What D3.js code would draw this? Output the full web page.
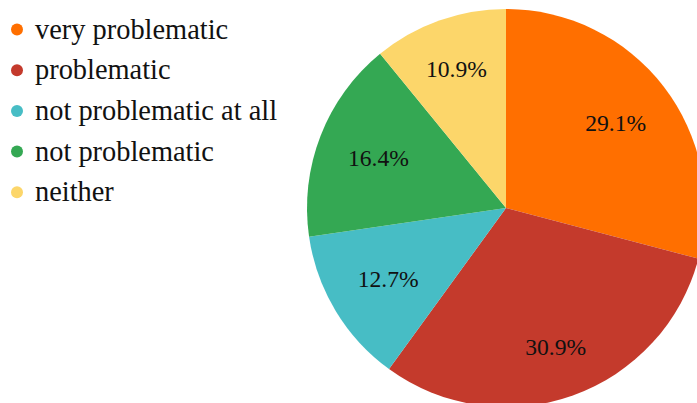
<!DOCTYPE html>
<html>
<head>
<meta charset="utf-8">
<script src="https://cdn.jsdelivr.net/npm/d3@7"></script>
<style>
  body { margin: 0; background: #fff; }
  svg { display: block; }
  text { font-family: "Liberation Serif", "Times New Roman", "DejaVu Serif", serif; }
</style>
</head>
<body>
<script>
const width = 697;
const height = 403;

const categories = ["very problematic", "problematic", "not problematic at all", "not problematic", "neither"];
const values = [29.1, 30.9, 12.7, 16.4, 10.9];
const colors = ["#ff6f00", "#c43a2c", "#47bdc5", "#34a853", "#fcd66a"];

const svg = d3.select("body")
  .append("svg")
  .attr("width", width)
  .attr("height", height);

// legend
const legend = svg.append("g")
  .selectAll("g")
  .data(categories)
  .enter()
  .append("g")
  .attr("transform", (d, i) => "translate(0," + (29.5 + i * 40.7) + ")");

legend.append("circle")
  .attr("cx", 17)
  .attr("cy", 0)
  .attr("r", 6)
  .attr("fill", (d, i) => colors[i]);

legend.append("text")
  .attr("x", 35)
  .attr("y", 9)
  .attr("font-size", 28.4)
  .attr("fill", "#111")
  .text(d => d);

// pie
const radius = 199;
const labelFont = 23.6;
const pie = d3.pie().sort(null).value(d => d);
const arc = d3.arc().innerRadius(0).outerRadius(radius);

const g = svg.append("g")
  .attr("transform", "translate(506,208)");

const slices = g.selectAll("g")
  .data(pie(values))
  .enter()
  .append("g");

slices.append("path")
  .attr("d", arc)
  .attr("fill", (d, i) => colors[i]);

// labels pushed outward along the mid angle until the outer corner of the text box hits an inner circle
const cornerR = 168.5;
slices.append("text")
  .attr("text-anchor", "middle")
  .attr("dy", "0.34em")
  .attr("font-size", labelFont)
  .attr("fill", "#111")
  .text(d => d.data.toFixed(1) + "%")
  .attr("transform", function(d) {
    const a = (d.startAngle + d.endAngle) / 2;
    const ux = Math.sin(a), uy = -Math.cos(a);
    const w = this.getComputedTextLength();
    const h = labelFont * 0.76;
    const cx = Math.sign(ux) * w / 2, cy = Math.sign(uy) * h / 2;
    const dot = ux * cx + uy * cy;
    const t = -dot + Math.sqrt(dot * dot - (cx * cx + cy * cy) + cornerR * cornerR);
    return "translate(" + (t * ux) + "," + (t * uy) + ")";
  });
</script>
</body>
</html>
